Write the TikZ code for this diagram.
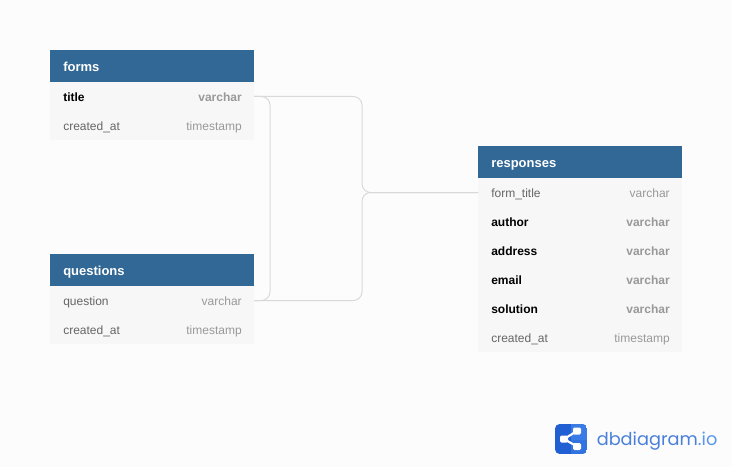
\documentclass[tikz,border=0pt]{standalone}
\usepackage{fontspec}
\setmainfont{Liberation Sans}
\newfontfamily\logofont{Poppins}
\definecolor{bgc}{HTML}{FCFCFC}
\definecolor{headc}{HTML}{316896}
\definecolor{rowc}{HTML}{F7F7F7}
\definecolor{namec}{HTML}{666666}
\definecolor{typec}{HTML}{999999}
\definecolor{linkc}{HTML}{D9D9D9}
\definecolor{logod}{HTML}{2160D2}
\definecolor{logol}{HTML}{3B7BE6}
\definecolor{logot}{HTML}{4A80DA}
\definecolor{logoi}{HTML}{5A97EC}
\tikzset{
  x=0.75pt,y=-0.75pt,
  headbox/.style={anchor=north west,fill=headc,minimum width=153pt,minimum height=24pt,inner sep=0pt,outer sep=0pt},
  headtext/.style={anchor=base west,inner sep=0pt,text=white,font=\fontsize{9.75pt}{11pt}\selectfont\bfseries},
  rowbox/.style={anchor=north west,fill=rowc,minimum width=153pt,minimum height=21.75pt,inner sep=0pt,outer sep=0pt},
  fname/.style={anchor=base west,font=\fontsize{9pt}{11pt}\selectfont,text=namec,inner sep=0pt},
  fnameb/.style={anchor=base west,font=\fontsize{9pt}{11pt}\selectfont\bfseries,text=black,inner sep=0pt},
  fnamet/.style={anchor=base east,font=\fontsize{9pt}{11pt}\selectfont,text=typec,inner sep=0pt},
  fnamebt/.style={anchor=base east,font=\fontsize{9pt}{11pt}\selectfont\bfseries,text=typec,inner sep=0pt},
  linkline/.style={draw=linkc,line width=0.75pt,rounded corners=6.5pt},
}
\newcommand{\fieldrow}[6]{%
  \node[rowbox] (#1) at (#2,#3) {};
  \node[#5] (#1n) at ([xshift=9.75pt,yshift=-3.8pt]#1.west) {#4};
  \node[#5t] (#1t) at ([xshift=-9pt,yshift=-3.8pt]#1.east) {#6};
}
\newcommand{\headrow}[4]{%
  \node[headbox] (#1) at (#2,#3) {};
  \node[headtext] (#1t) at ([xshift=9.75pt,yshift=-4.1pt]#1.west) {#4};
}
\begin{document}
\begin{tikzpicture}
\path[use as bounding box,fill=bgc] (0,0) rectangle (732,467);
% forms
\headrow{forms}{50}{50}{forms}
\fieldrow{ftitle}{50}{82}{title}{fnameb}{varchar}
\fieldrow{fcreated}{50}{111}{created\_at}{fname}{timestamp}
% questions
\headrow{questions}{50}{254}{questions}
\fieldrow{qquestion}{50}{286}{question}{fname}{varchar}
\fieldrow{qcreated}{50}{315}{created\_at}{fname}{timestamp}
% responses
\headrow{responses}{478}{146}{responses}
\fieldrow{rform}{478}{178}{form\_title}{fname}{varchar}
\fieldrow{rauthor}{478}{207}{author}{fnameb}{varchar}
\fieldrow{raddress}{478}{236}{address}{fnameb}{varchar}
\fieldrow{remail}{478}{265}{email}{fnameb}{varchar}
\fieldrow{rsolution}{478}{294}{solution}{fnameb}{varchar}
\fieldrow{rcreated}{478}{323}{created\_at}{fname}{timestamp}
% connectors
\coordinate (railx) at (270,0);
\coordinate (busx) at (362,0);
\draw[linkline] (ftitle.east) -- (ftitle.east -| railx) -- (qquestion.east -| railx) -- (qquestion.east);
\draw[linkline] (ftitle.east) -- (ftitle.east -| busx) -- (rform.west -| busx) -- (rform.west);
\draw[linkline] (qquestion.east) -- (qquestion.east -| busx) -- (rform.west -| busx) -- (rform.west);
% logo
\begin{scope}
\clip[rounded corners=3.5pt] (555,424) rectangle (587,454);
\fill[logod] (555,424) rectangle (587,454);
\fill[logol] (571,424) rectangle (587,440);
\fill[logol!70!logod] (571,440) rectangle (587,454);
\end{scope}
\draw[white,line width=1.6pt] (577,431) -- (564,439) -- (577,446.5);
\fill[white,rounded corners=1pt] (573,427.5) rectangle (581,434.5);
\fill[white,rounded corners=1pt] (560,435.5) rectangle (568,442.5);
\fill[white,rounded corners=1pt] (573,443) rectangle (581,450);
\node[anchor=base west,inner sep=0pt,text=logot,font=\logofont\fontsize{13.3pt}{16pt}\selectfont] (logo) at (596.5,445.5) {dbdiagram\textcolor{logoi}{.io}};
\end{tikzpicture}
\end{document}
